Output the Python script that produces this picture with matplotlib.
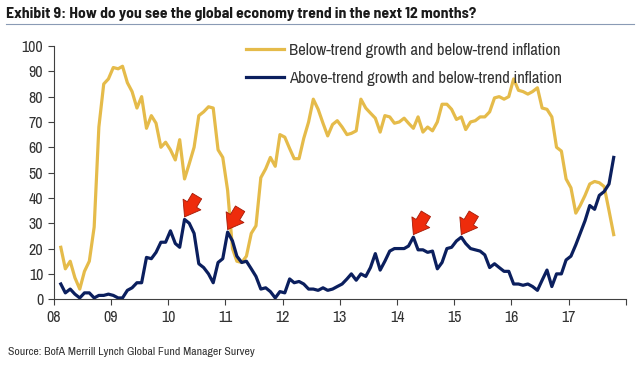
import numpy as np
import pandas as pd
import matplotlib
matplotlib.use('Agg')
import matplotlib.pyplot as plt
import matplotlib.dates as mdates

plt.rcParams['font.family'] = ['Archivo Narrow', 'DejaVu Sans']

# monthly survey readings, Feb 2008 - Oct 2017 (% of respondents)
below_trend = [20.5, 12, 15, 8.5, 4, 11, 15, 28.5, 68, 85,
               87, 91.5, 91, 92, 85.5, 82, 75.5, 80, 67.5, 72.5,
               69.5, 60, 62, 59, 55, 63, 47.5, 53.5, 60, 72.5,
               74, 76, 75.5, 59, 56, 43, 20, 15, 14.5, 17,
               26, 29, 48, 51.5, 56, 52.5, 65, 64, 59.5, 55.5,
               55.5, 63.5, 70, 79, 75, 69.5, 64.5, 69, 70.5, 68,
               65, 65.5, 66.5, 79, 75.5, 73.5, 71.5, 66, 72.5, 72,
               69.5, 70, 71.5, 69.5, 67.5, 72, 66, 68, 66.5, 70,
               77, 77, 75, 71, 72, 67, 70, 70.5, 72, 72,
               74, 79.5, 80, 79, 80, 87, 82.5, 82, 81, 82,
               83.5, 75.5, 75, 72, 60, 58.5, 47.5, 44, 34, 37,
               41, 45.5, 46.5, 46, 44.5, 35, 25.5]

above_trend = [6, 2.5, 4, 2, 0.5, 2.5, 2.5, 0.5, 1.5, 1.5,
               2, 1.5, 0.5, 0.5, 3.5, 4.5, 6.5, 6.5, 16.5, 16,
               18.5, 22.5, 22.5, 27, 22, 20.5, 31.5, 30, 26, 14,
               12.5, 10, 6.5, 14.5, 16, 26.5, 23, 17, 14.5, 15,
               12, 9, 4, 4.5, 3, 0.5, 3, 2.5, 8, 6.5,
               7, 6, 4, 4, 3.5, 4.5, 3.5, 4, 5, 6,
               8, 10, 7.5, 10, 9, 12.5, 18, 11.5, 15, 19,
               20, 20, 20, 21, 24.5, 19.5, 19.5, 18.5, 19, 12,
               14.5, 20, 20.5, 23, 24.5, 22, 20, 19.5, 19, 17.5,
               12.5, 14, 12.5, 11, 11, 6, 6, 5.5, 6, 5,
               3.5, 7.5, 11.5, 5, 10, 10, 15.5, 17, 21.5, 26,
               31, 37, 35.5, 41, 42.5, 45.5, 56]

months = pd.date_range('2008-02-01', periods=len(below_trend), freq='MS') + pd.Timedelta(days=14)

# peaks marked with red arrows (index into the monthly series)
arrow_idx = [26, 35, 74, 84]

gold = '#e5bb4a'
navy = '#0b1f5e'

fig = plt.figure(figsize=(6.4, 3.74), dpi=100)
ax = fig.add_axes([0.084, 0.2, 0.894, 0.677])

ax.plot(months, below_trend, color=gold, lw=2.3, label='Below-trend growth and below-trend inflation')
ax.plot(months, above_trend, color=navy, lw=2.3, label='Above-trend growth and below-trend inflation')

for i in arrow_idx:
    ax.annotate('', xy=(months[i], above_trend[i] + 1.0), xytext=(9, 15), textcoords='offset points',
                arrowprops=dict(arrowstyle='simple,head_width=1.15,head_length=0.8,tail_width=0.6',
                                mutation_scale=13, shrinkA=0, shrinkB=0,
                                fc='#ee2c0c', ec='#a51a06', lw=0.6))

ax.set_xlim(pd.Timestamp('2008-01-01'), pd.Timestamp('2018-01-01'))
ax.set_ylim(0, 100)
ax.set_yticks(range(0, 101, 10))
ax.xaxis.set_major_locator(mdates.YearLocator())
ax.xaxis.set_major_formatter(mdates.DateFormatter('%y'))
ax.tick_params(colors='#404040', labelsize=11.5, length=4, width=0.8, labelcolor='#333333')
ax.tick_params(axis='x', pad=4)
ax.get_xticklabels()[-1].set_visible(False)
for s in ['top', 'right']:
    ax.spines[s].set_visible(False)
for s in ['left', 'bottom']:
    ax.spines[s].set_color('#404040')
    ax.spines[s].set_linewidth(0.8)

leg = ax.legend(loc='upper left', bbox_to_anchor=(0.31, 1.07), frameon=False, fontsize=12,
                handlelength=2.3, handletextpad=0.25, labelspacing=0.75)
for t in leg.get_texts():
    t.set_color('#333333')

fig.text(0.009, 0.962, 'Exhibit 9: How do you see the global economy trend in the next 12 months?',
         fontsize=11.3, fontweight='bold', color='#1a1a1a', va='center',
         family=['Barlow Semi Condensed', 'Archivo Narrow', 'DejaVu Sans'])
fig.add_artist(plt.Line2D([0.009, 0.991], [0.937, 0.937], color='#8a9bb5', lw=0.8))
fig.text(0.012, 0.06, 'Source: BofA Merrill Lynch Global Fund Manager Survey',
         fontsize=8.5, color='#333333', va='center')

fig.savefig('out.png', dpi=100)
